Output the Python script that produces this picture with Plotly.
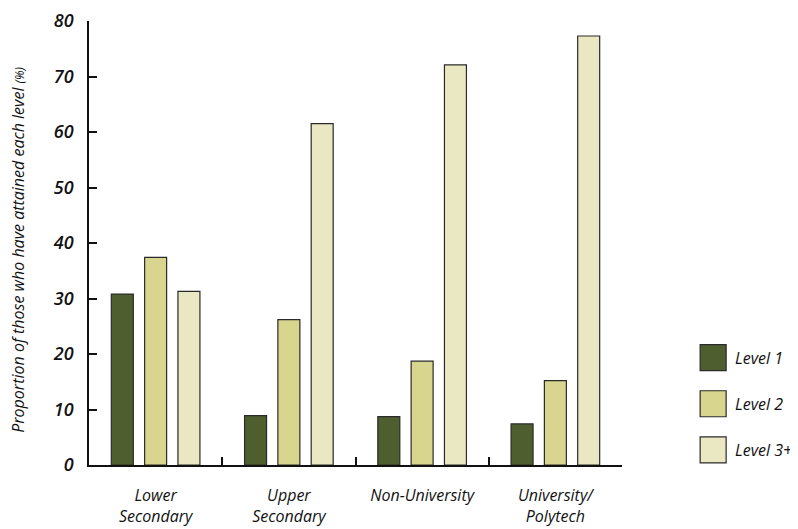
import plotly.graph_objects as go

categories = ["Lower<br>Secondary", "Upper<br>Secondary", "Non-University", "University/<br>Polytech"]
series_names = ["Level 1", "Level 2", "Level 3+"]
level1 = [30.8, 8.9, 8.7, 7.4]
level2 = [37.4, 26.2, 18.7, 15.2]
level3 = [31.3, 61.5, 72.1, 77.3]
colors = ["#4F5E2E", "#D8D58E", "#EAE7C3"]
y_ticks = [0, 10, 20, 30, 40, 50, 60, 70, 80]
y_title = "Proportion of those who have attained each level <span style='font-size:12px'>(%)</span>"

FONT = "Open Sans"
fig = go.Figure()
for name, vals, col in zip(series_names, [level1, level2, level3], colors):
    fig.add_trace(go.Bar(
        x=categories, y=vals, name=name,
        marker=dict(color=col, line=dict(color="#2a2a2a", width=1.2)),
        showlegend=False,
    ))

# custom legend with large swatches
for i, (name, col) in enumerate(zip(series_names, colors)):
    yc = 0.242 - i * 0.104
    fig.add_shape(type="rect", xref="paper", yref="paper",
                  xsizemode="pixel", ysizemode="pixel",
                  xanchor=1.171, yanchor=yc, x0=-13, x1=13, y0=-13, y1=13,
                  fillcolor=col, line=dict(color="#2a2a2a", width=1.2))
    fig.add_annotation(xref="paper", yref="paper", x=1.208, y=yc, text=name,
                       showarrow=False, xanchor="left", yanchor="middle",
                       font=dict(family=FONT, size=16, color="#111", style="italic"))

# y-axis title
fig.add_annotation(xref="paper", yref="paper", x=-0.133, y=0.485, text=y_title,
                   textangle=-90, showarrow=False, xanchor="center", yanchor="middle",
                   font=dict(family=FONT, size=16, color="#111", style="italic"))

# page body has an 8px default margin, so the figure is sized to fit inside it
fig.update_layout(
    width=790, height=521,
    margin=dict(l=81, r=176, t=13, b=64),
    paper_bgcolor="white", plot_bgcolor="white",
    barmode="group", bargap=0.25, bargroupgap=0.34,
    font=dict(family=FONT, color="#111"),
)
fig.update_xaxes(
    type="category", showline=True, linecolor="#111", linewidth=1.6,
    ticks="inside", tickson="boundaries", ticklen=8, tickwidth=1.6, tickcolor="#111",
    showgrid=False, zeroline=False, automargin=False, ticklabelstandoff=15,
    tickfont=dict(family=FONT, size=16, style="italic", color="#111"),
)
fig.update_yaxes(
    range=[0, 80], tickvals=y_ticks, showline=True, linecolor="#111", linewidth=1.6,
    ticks="inside", ticklen=8, tickwidth=1.6, tickcolor="#111",
    showgrid=False, zeroline=False, ticklabelstandoff=10, automargin=False,
    tickfont=dict(family=FONT, size=18, style="italic", weight=600, color="#111"),
)
fig.write_html("out.html")
